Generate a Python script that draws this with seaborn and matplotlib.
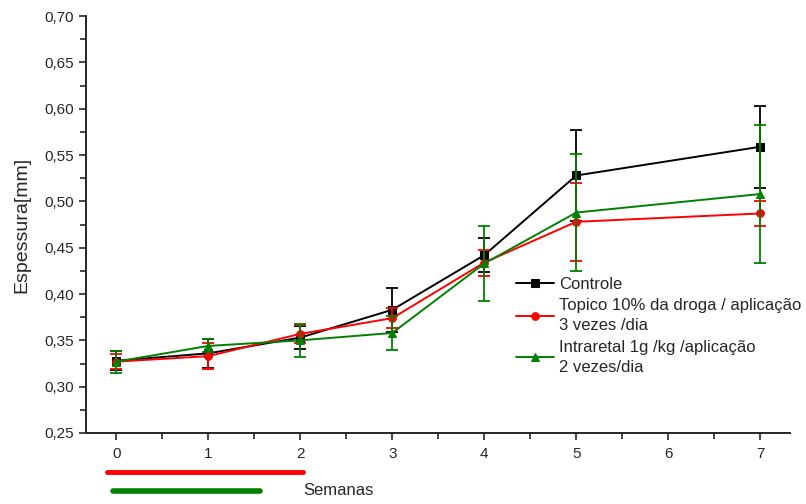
import matplotlib
matplotlib.use('Agg')
import matplotlib.pyplot as plt
import matplotlib.transforms as mtransforms
from matplotlib.ticker import FuncFormatter, MultipleLocator
import seaborn as sns
import pandas as pd

# Data
semanas = [0, 1, 2, 3, 4, 5, 7]
controle = [0.328, 0.336, 0.353, 0.383, 0.442, 0.528, 0.559]
controle_err = [0.010, 0.016, 0.012, 0.024, 0.018, 0.049, 0.044]
topico = [0.327, 0.333, 0.357, 0.374, 0.434, 0.478, 0.487]
topico_err = [0.008, 0.014, 0.010, 0.011, 0.014, 0.042, 0.013]
intraretal = [0.327, 0.344, 0.350, 0.358, 0.433, 0.488, 0.508]
intraretal_err = [0.012, 0.007, 0.018, 0.018, 0.041, 0.063, 0.074]

labels = ['Controle',
          'Topico 10% da droga / aplicação\n3 vezes /dia',
          'Intraretal 1g /kg /aplicação\n2 vezes/dia']
colors = ['black', 'red', 'green']
markers = ['s', 'o', '^']

sns.set_style('ticks')
plt.rcParams['font.family'] = ['Liberation Sans', 'DejaVu Sans']

fig = plt.figure(figsize=(8.06, 5.04), dpi=100)
ax = fig.add_axes([0.1067, 0.1409, 0.873, 0.827])

series = [(controle, controle_err), (topico, topico_err), (intraretal, intraretal_err)]
for (vals, errs), lab, col, mk in zip(series, labels, colors, markers):
    df = pd.DataFrame({'Semanas': semanas, 'Espessura': vals})
    ax.errorbar(semanas, vals, yerr=errs, fmt='none', ecolor=col, elinewidth=1.3,
                capsize=4.5, capthick=1.3)
    sns.lineplot(data=df, x='Semanas', y='Espessura', color=col, marker=mk,
                 markersize=5.5, markeredgecolor=col, linewidth=1.4, label=lab, ax=ax)

ax.set_xlim(-0.33, 7.32)
ax.set_ylim(0.25, 0.70)
ax.xaxis.set_major_locator(MultipleLocator(1))
ax.xaxis.set_minor_locator(MultipleLocator(0.5))
ax.yaxis.set_major_locator(MultipleLocator(0.05))
ax.yaxis.set_minor_locator(MultipleLocator(0.025))
ax.yaxis.set_major_formatter(FuncFormatter(lambda v, p: f'{v:.2f}'.replace('.', ',')))
ax.tick_params(which='both', direction='out', width=1.2, labelsize=11)
ax.tick_params(which='major', length=5)
ax.tick_params(which='minor', length=4)
ax.tick_params(axis='x', pad=5)
for s in ['top', 'right']:
    ax.spines[s].set_visible(False)
for s in ['left', 'bottom']:
    ax.spines[s].set_linewidth(1.4)

ax.set_xlabel('')
ax.set_ylabel('Espessura[mm]', fontsize=14, labelpad=10)

leg = ax.legend(loc='upper left', bbox_to_anchor=(0.6315, 0.464), bbox_transform=fig.transFigure,
                frameon=False, fontsize=12, handlelength=2.3, handletextpad=0.3,
                labelspacing=0.38, borderaxespad=0)
for t in leg.get_texts():
    t.set_linespacing(1.42)

# treatment period bars below the axis
trans = mtransforms.blended_transform_factory(ax.transData, ax.transAxes)
ax.plot([-0.1, 2.03], [-0.094, -0.094], color='red', linewidth=3.5, transform=trans,
        clip_on=False, solid_capstyle='round')
ax.plot([-0.04, 1.56], [-0.139, -0.139], color='green', linewidth=4, transform=trans,
        clip_on=False, solid_capstyle='round')
ax.text(2.03, -0.139, 'Semanas', transform=trans, fontsize=12, va='center', ha='left')

fig.savefig('out.png', dpi=100)
